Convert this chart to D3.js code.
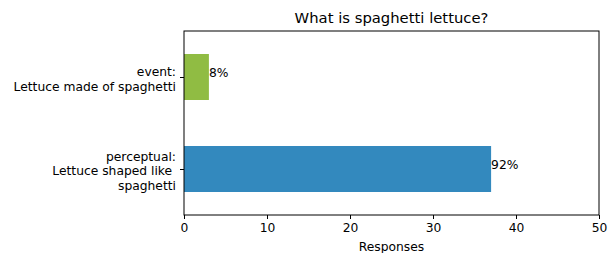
<!DOCTYPE html>
<html>
<head>
<meta charset="utf-8">
<script src="https://cdn.jsdelivr.net/npm/d3@7"></script>
<style>
  body { margin: 0; background: #fff; }
  text { font-family: "DejaVu Sans", sans-serif; fill: #000; }
</style>
</head>
<body>
<svg id="chart" width="610" height="253"></svg>
<script>
// data
var categories = ["perceptual:\nLettuce shaped like \nspaghetti", "event:\nLettuce made of spaghetti"];
var responses = [37, 3];
var percentLabels = ["92%", "8%"];
var barColors = ["#3389be", "#90bc43"];
var xTicks = [0, 10, 20, 30, 40, 50];

var fontSize = 12.3;
var titleSize = 14.8;

var svg = d3.select("#chart");
var margin = { left: 184, right: 11, top: 31, bottom: 38 };
var width = 610 - margin.left - margin.right;
var height = 253 - margin.top - margin.bottom;

var g = svg.append("g").attr("transform", `translate(${margin.left},${margin.top})`);

var x = d3.scaleLinear().domain([0, 50]).range([0, width]);
// matplotlib barh: positions 0..n-1, limits -0.5..n-0.5
var y = d3.scaleLinear().domain([-0.5, categories.length - 0.5]).range([height, 0]);
var barH = y(0) - y(0.5);

g.selectAll(".bar")
  .data(responses)
  .enter()
  .append("rect")
  .attr("class", "bar")
  .attr("x", x(0))
  .attr("y", (d, i) => y(i) - barH / 2)
  .attr("width", d => x(d) - x(0))
  .attr("height", barH)
  .attr("fill", (d, i) => barColors[i]);

// percent text sits on the bar centre line (baseline)
g.selectAll(".pct")
  .data(responses)
  .enter()
  .append("text")
  .attr("class", "pct")
  .attr("x", d => x(d))
  .attr("y", (d, i) => y(i))
  .attr("font-size", fontSize)
  .text((d, i) => percentLabels[i]);

// x axis
var xAxis = g.append("g")
  .attr("transform", `translate(0,${height})`)
  .call(d3.axisBottom(x).tickValues(xTicks).tickSize(4).tickPadding(4));
xAxis.select(".domain").remove();
xAxis.selectAll("line").attr("stroke", "#000").attr("stroke-width", 1);
xAxis.selectAll("text").attr("font-size", fontSize).attr("font-family", "DejaVu Sans").attr("fill", "#000");

// y axis
var yAxis = g.append("g")
  .call(d3.axisLeft(y).tickValues(d3.range(categories.length)).tickSize(4).tickFormat(""));
yAxis.select(".domain").remove();
yAxis.selectAll("line").attr("stroke", "#000").attr("stroke-width", 1);

var lineH = 14.5;
categories.forEach(function(c, i) {
  var lines = c.split("\n");
  var t = g.append("text")
    .attr("text-anchor", "end")
    .attr("font-size", fontSize)
    .attr("xml:space", "preserve")
    .attr("transform", `translate(-8,${y(i) + 2})`);
  lines.forEach(function(l, j) {
    t.append("tspan")
      .attr("x", 0)
      .attr("y", (j - (lines.length - 1) / 2) * lineH)
      .attr("dy", "0.35em")
      .text(l);
  });
});

// frame
g.append("rect")
  .attr("width", width)
  .attr("height", height)
  .attr("fill", "none")
  .attr("stroke", "#000")
  .attr("stroke-width", 1);

g.append("text")
  .attr("x", width / 2)
  .attr("y", height + 36)
  .attr("text-anchor", "middle")
  .attr("font-size", fontSize)
  .text("Responses");

g.append("text")
  .attr("x", width / 2)
  .attr("y", -8)
  .attr("text-anchor", "middle")
  .attr("font-size", titleSize)
  .text("What is spaghetti lettuce?");
</script>
</body>
</html>
